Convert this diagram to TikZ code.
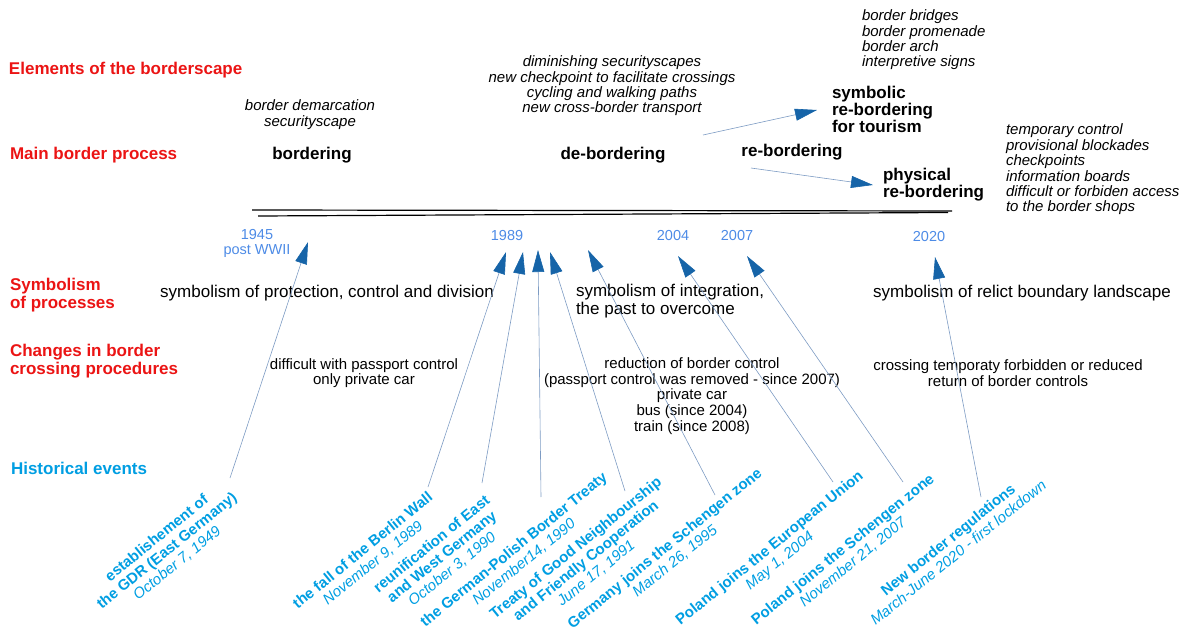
\documentclass[tikz,border=0pt]{standalone}
\usepackage{fontspec}
\setmainfont{Liberation Sans}
\usetikzlibrary{arrows.meta}
\definecolor{redlab}{RGB}{235,20,20}
\definecolor{cyanlab}{RGB}{0,158,226}
\definecolor{yearblue}{RGB}{77,139,230}
\definecolor{tipblue}{RGB}{22,100,168}
\definecolor{linblue}{RGB}{125,155,195}
\begin{document}
\begin{tikzpicture}[x=1pt,y=-1pt,
 every node/.style={inner sep=0pt, outer sep=0pt},
 rowlab/.style={anchor=west, align=left, text=redlab, font=\fontsize{17}{18}\selectfont\bfseries},
 proc/.style={font=\fontsize{17}{17}\selectfont\bfseries, align=left},
 elem/.style={font=\fontsize{15}{15.4}\selectfont\itshape},
 yearlab/.style={text=yearblue, font=\fontsize{14.5}{15}\selectfont, align=center},
 symb/.style={font=\fontsize{17}{18}\selectfont},
 cross/.style={font=\fontsize{15}{15.6}\selectfont, align=center},
 event/.style={rotate=39, text=cyanlab, align=center, font=\fontsize{15}{16.2}\selectfont\bfseries},
 evarrow/.style={draw=linblue, line width=0.6pt, -{Triangle[length=22pt,width=12pt,color=tipblue]}},
 tline/.style={draw=black, line width=1.2pt}]
\useasboundingbox (0,0) rectangle (1189,631);

% row labels
\node[rowlab] (rElem) at (9,70) {Elements of the borderscape};
\node[rowlab] (rMain) at (10,155) {Main border process};
\node[rowlab] (rSym) at (10,295) {Symbolism\\of processes};
\node[rowlab] (rChg) at (10,361.5) {Changes in border\\crossing procedures};
\node[rowlab, text=cyanlab] (rHist) at (11,468) {Historical events};

% elements of the borderscape
\node[elem, align=center] (eBord) at (310,114.5) {border demarcation\\securityscape};
\node[elem, align=center] (eDeb) at (612,86) {diminishing securityscapes\\new checkpoint to facilitate crossings\\cycling and walking paths\\new cross-border transport};
\node[elem, align=left, anchor=west] (eSym) at (862,40) {border bridges\\border promenade\\border arch\\interpretive signs};
\node[elem, align=left, anchor=west] (ePhys) at (1006,169.5) {temporary control\\provisional blockades\\checkpoints\\information boards\\difficult or forbiden access\\to the border shops};

% main border processes
\node[proc] (pBord) at (312,155) {bordering};
\node[proc] (pDeb) at (613,155) {de-bordering};
\node[proc] (pReb) at (792,152) {re-bordering};
\node[proc, anchor=west] (pSym) at (832,109) {symbolic\\re-bordering\\for tourism};
\node[proc, anchor=west] (pPhys) at (883,184.5) {physical\\re-bordering};

\coordinate (rbA1) at (703,135);
\coordinate (rbB1) at (817,110);
\coordinate (rbA2) at (751,168);
\coordinate (rbB2) at (873,185);
\draw[evarrow] (rbA1) -- (rbB1);
\draw[evarrow] (rbA2) -- (rbB2);

% timeline
\coordinate (tlA1) at (252,210);
\coordinate (tlB1) at (952,211);
\coordinate (tlA2) at (258,216);
\coordinate (tlB2) at (948,212.5);
\draw[tline] (tlA1) -- (tlB1);
\draw[tline] (tlA2) -- (tlB2);

% years
\node[yearlab] (y1945) at (257,243.5) {1945\\post WWII};
\node[yearlab] (y1989) at (507,236) {1989};
\node[yearlab] (y2004) at (673,236) {2004};
\node[yearlab] (y2007) at (737,236) {2007};
\node[yearlab] (y2020) at (929,237) {2020};

% symbolism
\node[symb] (sProt) at (327,293) {symbolism of protection, control and division};
\node[symb, anchor=west, align=left] (sInt) at (576,301) {symbolism of integration,\\the past to overcome};
\node[symb] (sRel) at (1022,293) {symbolism of relict boundary landscape};

% crossing procedures
\node[cross] (cDiff) at (364,373) {difficult with passport control\\only private car};
\node[cross] (cRed) at (692,396) {reduction of border control\\(passport control was removed - since 2007)\\private car\\bus (since 2004)\\train (since 2008)};
\node[cross] (cTemp) at (1008,373) {crossing temporaty forbidden or reduced\\return of border controls};

% historical events
\node[event] (h1) at (167,551) {establishement of\\the GDR (East Germany)\\{\mdseries\itshape October 7, 1949}};
\node[event] (h2) at (368,557) {the fall of the Berlin Wall\\{\mdseries\itshape November 9, 1989}};
\node[event] (h3) at (442,557) {reunification of East\\and West Germany\\{\mdseries\itshape October 3, 1990}};
\node[event] (h4) at (519,556) {the German-Polish Border Treaty\\{\mdseries\itshape November14, 1990}};
\node[event] (h5) at (586,561) {Treaty of Good Neighbourship\\and Friendly Cooperation\\{\mdseries\itshape June 17, 1991}};
\node[event] (h6) at (670,555) {Germany joins the Schengen zone\\{\mdseries\itshape March 26, 1995}};
\node[event] (h7) at (775,555) {Poland joins the European Union\\{\mdseries\itshape May 1, 2004}};
\node[event] (h8) at (848,556) {Poland joins the Schengen zone\\{\mdseries\itshape November 21, 2007}};
\node[event] (h9) at (953,546) {New border regulations\\{\mdseries\itshape March-June 2020 - first lockdown}};

% event arrows
\coordinate (s1) at (230,478); \coordinate (t1) at (308,242);
\coordinate (s2) at (428,487); \coordinate (t2) at (506,252);
\coordinate (s3) at (482,483); \coordinate (t3) at (523,252);
\coordinate (s4) at (541,497); \coordinate (t4) at (538,250);
\coordinate (s5) at (625,491); \coordinate (t5) at (550,252);
\coordinate (s6) at (715,495); \coordinate (t6) at (588,250);
\coordinate (s7) at (833,482); \coordinate (t7) at (678,256);
\coordinate (s8) at (903,482); \coordinate (t8) at (747,256);
\coordinate (s9) at (981,497); \coordinate (t9) at (935,257);
\foreach \i in {1,...,9} {\draw[evarrow] (s\i) -- (t\i);}
\end{tikzpicture}
\end{document}
